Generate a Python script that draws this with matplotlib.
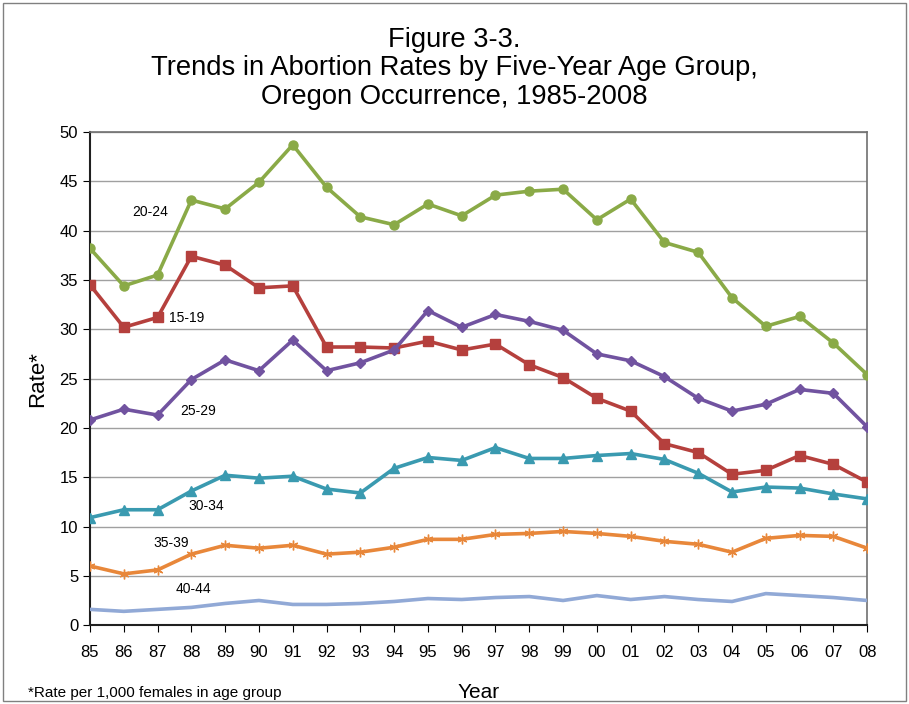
import matplotlib
matplotlib.use("Agg")
import matplotlib.pyplot as plt
from matplotlib.patches import Rectangle

plt.rcParams['font.family'] = ['Liberation Sans', 'DejaVu Sans']

years = ["85","86","87","88","89","90","91","92","93","94","95","96",
         "97","98","99","00","01","02","03","04","05","06","07","08"]

age_15_19 = [34.5,30.2,31.2,37.4,36.5,34.2,34.4,28.2,28.2,28.1,28.8,27.9,
             28.5,26.4,25.1,23.0,21.7,18.4,17.5,15.3,15.7,17.2,16.3,14.5]
age_20_24 = [38.2,34.4,35.5,43.1,42.2,44.9,48.7,44.4,41.4,40.6,42.7,41.5,
             43.6,44.0,44.2,41.1,43.2,38.8,37.8,33.2,30.3,31.3,28.6,25.4]
age_25_29 = [20.8,21.9,21.3,24.9,26.9,25.8,28.9,25.8,26.6,27.9,31.9,30.2,
             31.5,30.8,29.9,27.5,26.8,25.2,23.0,21.7,22.4,23.9,23.5,20.1]
age_30_34 = [10.9,11.7,11.7,13.6,15.2,14.9,15.1,13.8,13.4,15.9,17.0,16.7,
             18.0,16.9,16.9,17.2,17.4,16.8,15.4,13.5,14.0,13.9,13.3,12.8]
age_35_39 = [6.0,5.2,5.6,7.2,8.1,7.8,8.1,7.2,7.4,7.9,8.7,8.7,
             9.2,9.3,9.5,9.3,9.0,8.5,8.2,7.4,8.8,9.1,9.0,7.8]
age_40_44 = [1.6,1.4,1.6,1.8,2.2,2.5,2.1,2.1,2.2,2.4,2.7,2.6,
             2.8,2.9,2.5,3.0,2.6,2.9,2.6,2.4,3.2,3.0,2.8,2.5]

y_ticks = [0,5,10,15,20,25,30,35,40,45,50]

fig = plt.figure(figsize=(9.09,7.04), dpi=100)
ax = fig.add_axes([0.099, 0.112, 0.855, 0.7005])
x = list(range(len(years)))

ax.plot(x, age_20_24, color='#8AAA47', lw=2.6, marker='o', ms=6.5, zorder=3)
ax.plot(x, age_15_19, color='#B5403D', lw=2.6, marker='s', ms=6.5, zorder=3)
ax.plot(x, age_25_29, color='#7153A0', lw=2.6, marker='D', ms=5, zorder=3)
ax.plot(x, age_30_34, color='#3A9AB0', lw=2.6, marker='^', ms=7, zorder=3)
ax.plot(x, age_35_39, color='#E8873A', lw=2.6, marker=(6, 2, 0), ms=7, mew=1.0, zorder=3)
ax.plot(x, age_40_44, color='#91A9D6', lw=2.6, zorder=3)

labels = [("20-24", 1.78, 41.9), ("15-19", 2.87, 31.1), ("25-29", 3.2, 21.7),
          ("30-34", 3.43, 12.1), ("35-39", 2.4, 8.3), ("40-44", 3.05, 3.65)]
for t, lx, ly in labels:
    ax.text(lx, ly, t, fontsize=10, ha='center', va='center')

ax.set_xlim(0, len(years)-1)
ax.set_ylim(0, 50)
ax.set_yticks(y_ticks)
ax.set_xticks(x)
ax.set_xticklabels(years)
ax.tick_params(axis='both', labelsize=12, direction='out', length=5)
ax.tick_params(axis='x', pad=9)
ax.yaxis.grid(True, color='#A0A0A0', lw=1)
ax.set_axisbelow(True)
for s in ['left','bottom']:
    ax.spines[s].set_color('#202020')
    ax.spines[s].set_linewidth(1.5)
for s in ['top','right']:
    ax.spines[s].set_color('#707070')
    ax.spines[s].set_linewidth(1.2)

ax.set_ylabel("Rate*", fontsize=16, labelpad=8)
ax.set_xlabel("Year", fontsize=15, labelpad=17)

fig.text(0.5, 0.962, "Figure 3-3.\nTrends in Abortion Rates by Five-Year Age Group,\nOregon Occurrence, 1985-2008",
         ha='center', va='top', fontsize=19.7, linespacing=1.12)
fig.text(0.031, 0.006, "*Rate per 1,000 females in age group", fontsize=11, ha='left', va='bottom')

fig.patches.append(Rectangle((0.003,0.004), 0.994, 0.992, transform=fig.transFigure,
                             fill=False, edgecolor='#808080', lw=1))

fig.savefig("out.png", dpi=100)
